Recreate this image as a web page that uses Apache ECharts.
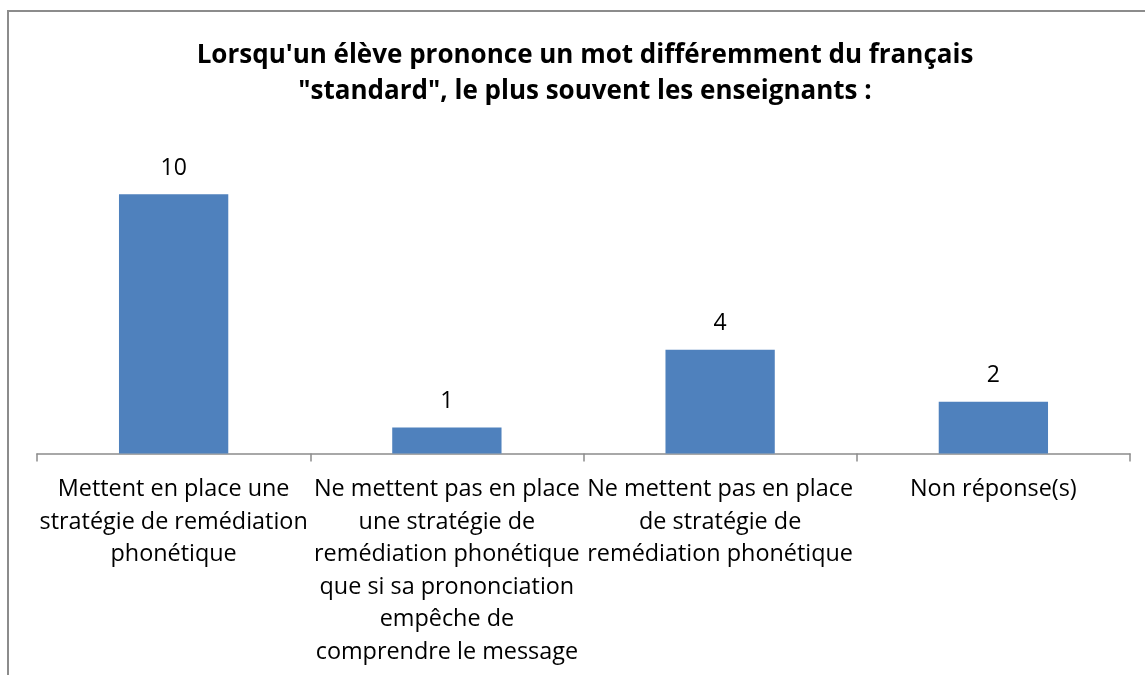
<!DOCTYPE html>
<html>
<head>
<meta charset="utf-8">
<script src="https://cdn.jsdelivr.net/npm/echarts@6/dist/echarts.min.js"></script>
<style>html,body{margin:0;padding:0;background:#fff;}#c{width:1145px;height:675px;}</style>
</head>
<body>
<div id="c"></div>
<script>
var titleText = "Lorsqu'un élève prononce un mot différemment du français\n\"standard\", le plus souvent les enseignants :";
var categories = [
  "Mettent en place une\nstratégie de remédiation\nphonétique",
  "Ne mettent pas en place\nune stratégie de\nremédiation phonétique\nque si sa prononciation\nempêche de\ncomprendre le message",
  "Ne mettent pas en place\nde stratégie de\nremédiation phonétique",
  "Non réponse(s)"
];
var values = [10, 1, 4, 2];

var FONT = "'Open Sans', sans-serif";
var chart = echarts.init(document.getElementById('c'), null, {renderer: 'canvas'});
chart.setOption({
  animation: false,
  backgroundColor: '#fff',
  graphic: [{
    type: 'rect', silent: true, z: -1,
    shape: {x: 8, y: 11, width: 1200, height: 800},
    style: {fill: 'none', stroke: '#8c8c8c', lineWidth: 2}
  }],
  title: {
    text: titleText,
    left: 580, top: 33, textAlign: 'center',
    textStyle: {fontFamily: FONT, fontWeight: 'bold', fontSize: 26, lineHeight: 36, color: '#000'}
  },
  grid: {left: 37, right: 15, top: 142.5, bottom: 221.5, containLabel: false},
  xAxis: {
    type: 'category', data: categories, boundaryGap: true,
    axisLine: {lineStyle: {color: '#8c8c8c', width: 1.5}},
    axisTick: {show: true, length: 8, lineStyle: {color: '#8c8c8c', width: 1.5}},
    axisLabel: {interval: 0, margin: 20, fontFamily: FONT, fontSize: 23.4, lineHeight: 32.5, color: '#000', align: 'center'}
  },
  yAxis: {type: 'value', min: 0, max: 12, show: false, splitLine: {show: false}},
  series: [{
    type: 'bar', data: values, barWidth: '40%',
    itemStyle: {color: '#4f81bd'},
    label: {show: true, position: 'top', distance: 14, fontFamily: FONT, fontSize: 23, lineHeight: 24, color: '#000'}
  }]
});
</script>
</body>
</html>
